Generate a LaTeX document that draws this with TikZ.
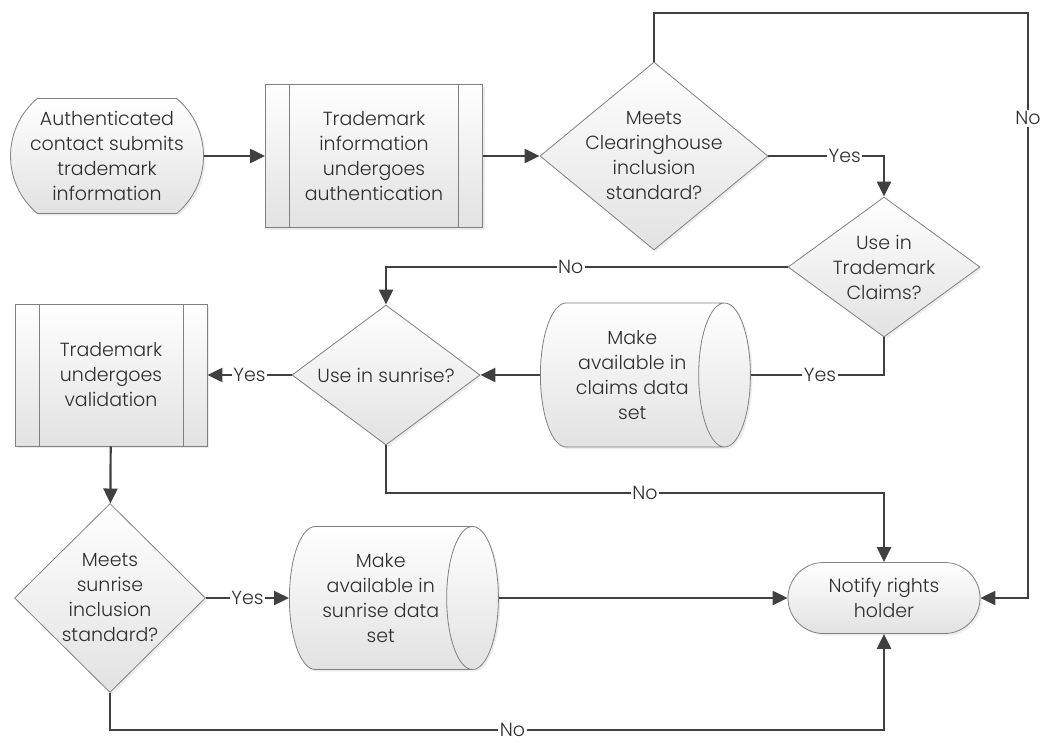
\documentclass[tikz,border=0pt]{standalone}
\usepackage{fontspec}
\setmainfont{Poppins}[UprightFont=* Light]
\usetikzlibrary{shapes.geometric,shapes.misc,arrows.meta,shadows}
\definecolor{linegray}{HTML}{404040}
\definecolor{edgegray}{HTML}{808080}
\definecolor{textgray}{HTML}{2E2E2E}
\definecolor{shadegray}{HTML}{E2E2E2}

\begin{document}
\begin{tikzpicture}[x=1pt,y=-1pt,every node/.style={font=\fontsize{19}{25}\selectfont,text=textgray,align=center,inner sep=0pt}]
	\tikzstyle{chartbox}=[draw=edgegray,line width=0.8pt,top color=white,bottom color=shadegray,drop shadow={opacity=0.15,shadow xshift=2pt,shadow yshift=-2pt}]
	\tikzstyle{terminal}=[chartbox,rounded rectangle]
	\tikzstyle{subproc}=[chartbox,rectangle,path picture={
			\draw[edgegray,line width=0.8pt] ([xshift=24pt]path picture bounding box.north west) -- ([xshift=24pt]path picture bounding box.south west)
			([xshift=-24pt]path picture bounding box.north east) -- ([xshift=-24pt]path picture bounding box.south east);}]
	\tikzstyle{decision}=[chartbox,diamond]
	\tikzstyle{datastore}=[chartbox,cylinder,shape border rotate=0,aspect=0.58,anchor=west]	% Hoehe = Laenge der Achse
	\tikzstyle{connector}=[draw=linegray,line width=2.2pt,-{Triangle[length=15pt,width=14pt]}]
	\tikzstyle{answer}=[fill=white,inner sep=1.5pt]
	
	\useasboundingbox (0,0) rectangle (1042,742);
	
	\node (start) [terminal,rounded rectangle arc length=100,minimum width=193pt,minimum height=115pt] at (107,156) {Authenticated\\contact submits\\trademark\\information};	% Eingang
	\node (auth) [subproc,minimum width=217pt,minimum height=143pt] at (374,156) {Trademark\\information\\undergoes\\authentication};
	\node (d1) [decision,minimum width=228pt,minimum height=188pt,label={center:Meets\\Clearinghouse\\inclusion\\standard?}] at (654,156) {};
	\node (d2) [decision,minimum width=192pt,minimum height=140pt,label={center:Use in\\Trademark\\Claims?}] at (884,267) {};
	\node (claims) [datastore,minimum height=210pt,minimum width=144pt] at (540,375) {Make\\available in\\claims data\\set};
	\node (d3) [decision,minimum width=188pt,minimum height=140pt,label={center:Use in sunrise?}] at (386,375) {};
	\node (valid) [subproc,minimum width=192pt,minimum height=142pt] at (111,375) {Trademark\\undergoes\\validation};
	\node (d4) [decision,minimum width=191pt,minimum height=189pt,label={center:Meets\\sunrise\\inclusion\\standard?}] at (110,598) {};
	\node (sunrise) [datastore,minimum height=209pt,minimum width=143pt] at (289,598) {Make\\available in\\sunrise data\\set};
	\node (notify) [terminal,minimum width=192pt,minimum height=71pt] at (884,598) {Notify rights\\holder};	% Ausgang
	
	\coordinate (loop) at (1028,13);
	\coordinate (bend) at (386,493);
	\coordinate (floor) at (110,730);
	
	\draw[connector] (start) -- (auth);
	\draw[connector] (auth) -- (d1);
	\draw[connector] (d1.east) -| node[answer,pos=0.33]{Yes} (d2.north);
	\draw[connector] (d1.north) |- (loop) |- node[answer,pos=0.09]{No} (notify.east);
	\draw[connector] (d2.west) -| node[answer,pos=0.27]{No} (d3.north);
	\draw[connector,-] (d2.south) |- node[answer,pos=0.74]{Yes} (claims.east);
	\draw[connector] (claims.west) -- (d3.east);
	\draw[connector] (d3.west) -- node[answer]{Yes} (valid.east);
	\draw[connector] (d3.south) -- (bend) -| node[answer,pos=0.26]{No} (notify.north);
	\draw[connector] (valid) -- (d4);
	\draw[connector] (d4.east) -- node[answer]{Yes} (sunrise.west);
	\draw[connector] (sunrise.east) -- (notify.west);
	\draw[connector] (d4.south) -- (floor) -| node[answer,pos=0.26]{No} (notify.south);
\end{tikzpicture}
\end{document}
